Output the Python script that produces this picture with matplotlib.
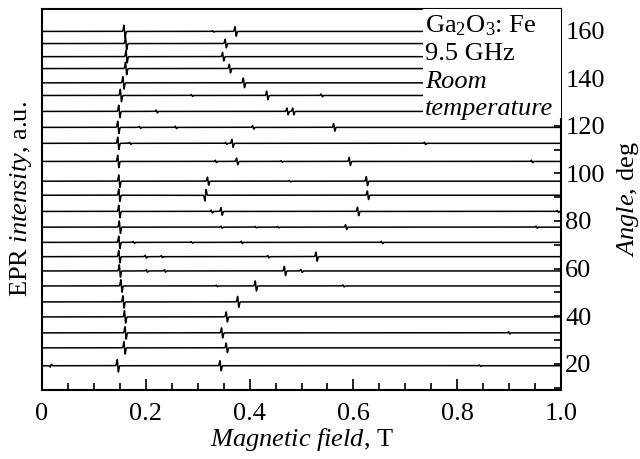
import matplotlib
matplotlib.use('Agg')
import matplotlib.pyplot as plt
import numpy as np
from matplotlib.patches import Rectangle
from matplotlib.ticker import MultipleLocator, FuncFormatter

plt.rcParams['font.family'] = 'Liberation Serif'
plt.rcParams['mathtext.fontset'] = 'custom'
plt.rcParams['mathtext.rm'] = 'Liberation Serif'
plt.rcParams['mathtext.it'] = 'Liberation Serif:italic'
plt.rcParams['font.size'] = 19

# baseline position of every spectrum on the angle axis, deg (top to bottom)
angles = [159.6, 154.5, 149.0, 144.0, 138.0, 132.7, 126.0, 119.3, 112.6, 105.0, 96.7, 90.8,
          84.0, 77.4, 71.0, 65.0, 59.0, 52.7, 46.0, 39.7, 33.0, 26.7, 19.2]
# strong line near g = 4.3, T
main_field = [0.159, 0.162, 0.163, 0.162, 0.157, 0.152, 0.149, 0.147, 0.147, 0.147, 0.149, 0.149,
              0.149, 0.150, 0.149, 0.149, 0.150, 0.153, 0.157, 0.160, 0.161, 0.159, 0.146]
main_amp = 2.6
# other resonance lines: (field T, amplitude in deg units)
extra_lines = [
    [(0.373, 2.0), (0.330, 0.3)],
    [(0.354, 1.8)],
    [(0.349, 1.8)],
    [(0.362, 1.8)],
    [(0.389, 2.0)],
    [(0.289, 0.4), (0.434, 1.8), (0.539, 0.6)],
    [(0.221, 0.6), (0.473, 1.4), (0.484, 1.4)],
    [(0.189, 0.4), (0.258, 0.5), (0.407, 0.7), (0.563, 1.6)],
    [(0.170, 0.4), (0.355, 0.4), (0.367, 1.7), (0.738, 0.5)],
    [(0.335, 0.5), (0.376, 1.4), (0.462, 0.3), (0.593, 1.7), (0.944, 0.5)],
    [(0.320, 1.7), (0.478, 0.3), (0.626, 1.9)],
    [(0.315, -2.4), (0.628, 1.8)],
    [(0.327, 0.6), (0.346, 1.6), (0.609, 1.8), (0.994, 0.4)],
    [(0.346, 0.4), (0.412, 0.3), (0.455, 0.3), (0.586, 1.0), (0.953, 0.4)],
    [(0.177, 0.4), (0.289, 0.3), (0.385, 0.5), (0.655, 0.5)],
    [(0.200, 0.6), (0.231, 0.4), (0.436, 0.5), (0.529, 1.9)],
    [(0.202, 0.5), (0.237, 0.5), (0.468, 1.9), (0.500, 0.6)],
    [(0.337, 0.3), (0.412, 2.1), (0.581, 0.4)],
    [(0.378, 2.3)],
    [(0.356, 2.1)],
    [(0.347, 2.1), (0.900, 0.5)],
    [(0.356, 2.0)],
    [(0.344, 2.1), (0.017, -0.6), (0.844, 0.3)],
]


def deriv_line(b, b0, amp, width=0.0012):
    # first-derivative absorption line, positive lobe on low-field side
    u = (b - b0) / width
    return -amp * u * np.exp(0.5 - 0.5 * u ** 2)


field = np.linspace(0, 1, 8000)

fig = plt.figure(figsize=(6.4, 4.59), dpi=100)
ax = fig.add_axes([0.0656, 0.1503, 0.811, 0.830])

for ang, b_main, extras in zip(angles, main_field, extra_lines):
    y = np.full_like(field, ang)
    y += deriv_line(field, b_main, main_amp)
    for b0, a in extras:
        y += deriv_line(field, b0, a)
    ax.plot(field, y, color='black', lw=1.1, zorder=2)

# white area behind the caption
ax.add_patch(Rectangle((0.734, 0.714), 0.27, 0.29, transform=ax.transAxes,
                       facecolor='white', edgecolor='none', zorder=3))
cap_x = 0.738
ax.text(cap_x, 0.940, r'Ga$_2$O$_3$: Fe', transform=ax.transAxes, va='baseline', ha='left', zorder=4)
ax.text(cap_x, 0.866, '9.5 GHz', transform=ax.transAxes, va='baseline', ha='left', zorder=4)
ax.text(cap_x, 0.793, 'Room', transform=ax.transAxes, va='baseline', ha='left',
        style='italic', zorder=4)
ax.text(cap_x, 0.722, 'temperature', transform=ax.transAxes, va='baseline', ha='left',
        style='italic', zorder=4)

ax.set_xlim(0, 1.0)
ax.set_ylim(9, 169)
ax.xaxis.set_major_locator(MultipleLocator(0.2))
ax.xaxis.set_minor_locator(MultipleLocator(0.05))
ax.xaxis.set_major_formatter(FuncFormatter(lambda v, p: '0' if abs(v) < 1e-9 else f'{v:.1f}'))
ax.yaxis.tick_right()
ax.yaxis.set_major_locator(MultipleLocator(20))
ax.yaxis.set_minor_locator(MultipleLocator(10))
ax.tick_params(axis='x', which='major', direction='in', length=8, width=1.2, pad=9)
ax.tick_params(axis='x', which='minor', direction='in', length=5, width=1.2)
ax.tick_params(axis='y', which='both', direction='in', length=5, width=1.2, pad=3,
               left=False, right=True)
for s in ax.spines.values():
    s.set_linewidth(1.5)

ax.set_xlabel(r'$\it{Magnetic\ field}$, T', labelpad=1)
ax.text(-0.040, 0.5, r'EPR $\it{intensity}$, a.u.', transform=ax.transAxes,
        rotation=90, ha='center', va='center')
ax.text(1.130, 0.5, r'$\it{Angle}$, deg', transform=ax.transAxes,
        rotation=90, ha='center', va='center')

fig.savefig('out.png', dpi=100)
